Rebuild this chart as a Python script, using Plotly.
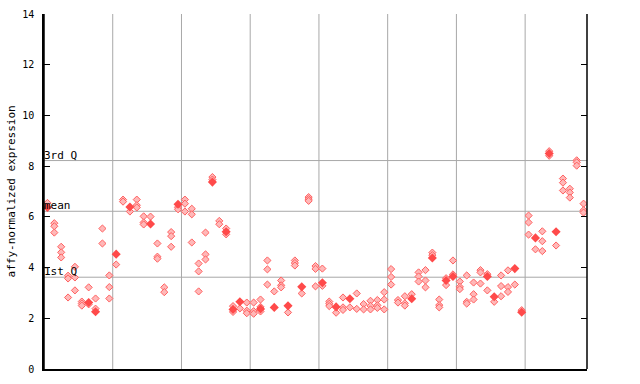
import plotly.graph_objects as go

# Per-sample (column) values; index = sample position
open_vals = [
    [6.55], [5.75, 5.63, 5.38], [4.82, 4.60, 4.40], [3.68, 3.57, 2.82],
    [4.03, 3.61, 3.10], [2.66, 2.58, 2.50], [3.22, 2.55], [2.78, 2.38],
    [5.54, 4.95], [3.69, 3.23, 2.78], [4.12], [6.68, 6.60],
    [6.21], [6.68, 6.46, 6.37], [6.02, 5.78, 5.70], [6.01],
    [4.95, 4.43, 4.35], [3.22, 3.03], [5.40, 5.24, 4.82], [6.38, 6.30],
    [6.68, 6.52, 6.21], [6.32, 6.10, 4.99], [4.16, 3.85, 3.06], [5.38, 4.52, 4.32],
    [7.57, 7.47], [5.84, 5.71], [5.54, 5.31], [2.48, 2.25],
    [2.39], [2.62, 2.30, 2.20], [2.62, 2.28, 2.18], [2.74, 2.45, 2.27],
    [4.28, 3.93, 3.33], [3.06], [3.49, 3.30, 3.22], [2.23],
    [4.28, 4.18, 4.08], [2.98], [6.78, 6.70, 6.63], [4.06, 3.95, 3.26],
    [3.96, 3.28], [2.66, 2.57, 2.48], [2.22], [2.82, 2.43, 2.33],
    [2.43], [2.98, 2.37], [2.56, 2.35], [2.69, 2.49, 2.35],
    [2.72, 2.51, 2.41], [3.03, 2.74, 2.35], [3.94, 3.63, 3.33], [2.72, 2.62],
    [2.87, 2.59, 2.50], [2.95], [3.81, 3.65, 3.45], [3.90, 3.49, 3.22],
    [4.59, 4.49], [2.74, 2.52, 2.43], [3.58, 3.31], [4.28, 3.73],
    [3.45, 3.24, 3.15], [3.69, 2.65, 2.58], [3.41, 2.95, 2.74], [3.90, 3.81, 3.37],
    [3.74, 3.10], [2.65], [3.69, 3.27, 2.87], [3.89, 3.23, 3.04],
    [3.33], [2.32], [6.05, 5.78, 5.30], [4.72],
    [5.43, 5.04, 4.65], [8.59, 8.41], [4.87], [7.51, 7.35, 7.04],
    [7.11, 6.96, 6.76], [8.23, 8.15, 8.02], [6.52, 6.26, 6.17],
]
solid_vals = [
    [6.37], [], [], [], [], [], [2.62], [2.26],
    [], [], [4.53], [],
    [6.39], [], [], [5.72],
    [], [], [], [6.50],
    [], [], [], [],
    [7.37], [], [5.41], [2.35],
    [2.65], [], [], [2.37],
    [], [2.43], [], [2.49],
    [], [3.24], [], [],
    [3.40], [], [2.45], [],
    [2.77], [], [], [],
    [], [], [], [],
    [], [2.77], [], [],
    [4.38], [], [3.49], [3.65],
    [], [], [], [],
    [3.65], [2.85], [], [],
    [3.96], [2.24], [], [5.17],
    [], [8.50], [5.41], [],
    [], [], [],
]
quartile_names = ["3rd Q", "mean", "1st Q"]
quartile_vals = [8.22, 6.22, 3.62]
group_bounds = [9.5, 19.5, 29.5, 39.5, 49.5, 59.5, 69.5]
y_ticks = [0, 2, 4, 6, 8, 10, 12, 14]

n = len(open_vals)
ox, oy, sx, sy = [], [], [], []
for i, vals in enumerate(open_vals):
    for v in vals:
        ox.append(i); oy.append(v)
for i, vals in enumerate(solid_vals):
    for v in vals:
        sx.append(i); sy.append(v)

FONT = "DejaVu Sans Mono"
fig = go.Figure()
fig.add_trace(go.Scatter(x=ox, y=oy, mode="markers", hoverinfo="skip",
                         marker=dict(symbol="diamond", size=5.5, color="#ffb8b8",
                                     line=dict(color="#ff6060", width=1))))
fig.add_trace(go.Scatter(x=sx, y=sy, mode="markers", hoverinfo="skip",
                         marker=dict(symbol="diamond", size=7, color="#ff4a4a",
                                     line=dict(width=0))))

shapes = []
for b in group_bounds:
    shapes.append(dict(type="line", xref="x", yref="paper", x0=b, x1=b, y0=0, y1=1,
                       line=dict(color="#a8a8a8", width=1), layer="below"))
annotations = []
for name, q in zip(quartile_names, quartile_vals):
    shapes.append(dict(type="line", xref="paper", yref="y", x0=0, x1=1, y0=q, y1=q,
                       line=dict(color="#a8a8a8", width=1), layer="below"))
    annotations.append(dict(x=0, xref="paper", y=q, yref="y", text=name, showarrow=False,
                            xanchor="left", yanchor="bottom", xshift=-2, yshift=-3,
                            font=dict(family=FONT, size=11, color="black")))
# y-axis title
annotations.append(dict(x=-0.059, xref="paper", y=0.5, yref="paper",
                        text="affy-normalized expression", textangle=-90, showarrow=False,
                        xanchor="center", yanchor="middle",
                        font=dict(family=FONT, size=11, color="black")))
# axis frame lines (left, bottom, right)
shapes.append(dict(type="line", xref="paper", yref="paper", x0=1, x1=1, y0=0, y1=1,
                   line=dict(color="black", width=1.5)))
shapes.append(dict(type="line", xref="paper", yref="paper", x0=0, x1=0, y0=0, y1=1,
                   line=dict(color="black", width=1.5)))

fig.update_layout(
    width=640, height=384,
    margin=dict(l=44, r=53, t=14, b=15, autoexpand=False),
    paper_bgcolor="white", plot_bgcolor="white",
    showlegend=False,
    shapes=shapes, annotations=annotations,
    xaxis=dict(range=[-0.5, n - 0.5], showgrid=False, zeroline=False, automargin=False,
               showticklabels=False, ticks="", showline=True, linecolor="black",
               linewidth=1.5, mirror=False),
    yaxis=dict(range=[0, 14], tickvals=y_ticks, ticktext=[str(t) for t in y_ticks],
               showgrid=False, zeroline=False, showline=True, linecolor="black",
               linewidth=1.5, ticks="inside", ticklen=6, tickcolor="black",
               automargin=False, ticklabelstandoff=6,
               tickfont=dict(family=FONT, size=10, color="black")),
    yaxis2=dict(range=[0, 14], overlaying="y", side="right", tickvals=y_ticks,
                showticklabels=False, ticks="inside", ticklen=6, tickcolor="black",
                automargin=False, showgrid=False, zeroline=False, showline=False),
)
fig.add_trace(go.Scatter(x=[None], y=[None], yaxis="y2", showlegend=False))
fig.write_html("out.html")
